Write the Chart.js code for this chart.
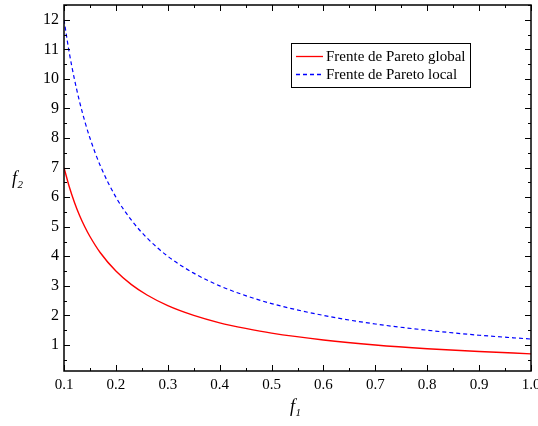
<!DOCTYPE html>
<html>
<head>
<meta charset="utf-8">
<script src="https://cdn.jsdelivr.net/npm/chart.js@4.4.1/dist/chart.umd.min.js"></script>
<style>
  html, body { margin: 0; padding: 0; background: #fff; }
  #wrap { width: 538px; height: 426px; }
</style>
</head>
<body>
<div id="wrap"><canvas id="pareto"></canvas></div>
<script>
// valori
const f1Values = [0.1, 0.11, 0.12, 0.13, 0.14, 0.15, 0.17, 0.2, 0.23, 0.26, 0.3, 0.35, 0.4, 0.45, 0.5, 0.6, 0.7, 0.8, 0.9, 1.0];
const f2Global = [7.0, 6.36, 5.83, 5.38, 5.0, 4.67, 4.12, 3.5, 3.04, 2.69, 2.33, 2.0, 1.75, 1.56, 1.4, 1.17, 1.0, 0.875, 0.78, 0.7];
const f2Local = [12.0, 10.9, 10.0, 9.23, 8.57, 8.0, 7.06, 6.0, 5.22, 4.62, 4.0, 3.43, 3.0, 2.67, 2.4, 2.0, 1.71, 1.5, 1.33, 1.2];
const seriesNames = ['Frente de Pareto global', 'Frente de Pareto local'];
const xTicks = [0.1, 0.2, 0.3, 0.4, 0.5, 0.6, 0.7, 0.8, 0.9, 1.0];
const yTicks = [1, 2, 3, 4, 5, 6, 7, 8, 9, 10, 11, 12];

const serif = '"Liberation Serif", "Times New Roman", serif';
const toPoints = (ys) => f1Values.map((x, i) => ({ x: x, y: ys[i] }));

// cornice, tacche interne, legenda e titoli degli assi
const framePlugin = {
  id: 'frame',
  afterDraw(chart) {
    const { ctx, chartArea: a, scales } = chart;
    const xs = scales.x, ys = scales.y;
    ctx.save();
    ctx.strokeStyle = '#000';
    ctx.lineWidth = 1.5;
    ctx.strokeRect(a.left, a.top, a.right - a.left, a.bottom - a.top);

    ctx.lineWidth = 1;
    ctx.beginPath();
    for (let v = 0.1; v <= 1.0001; v += 0.05) {
      const px = Math.round(xs.getPixelForValue(v)) + 0.5;
      const major = Math.abs(v * 10 - Math.round(v * 10)) < 0.01;
      const len = major ? 6 : 3;
      ctx.moveTo(px, a.bottom); ctx.lineTo(px, a.bottom - len);
      ctx.moveTo(px, a.top); ctx.lineTo(px, a.top + len);
    }
    for (let v = 0.5; v <= 12.5; v += 0.5) {
      const py = Math.round(ys.getPixelForValue(v)) + 0.5;
      const major = Number.isInteger(v);
      const len = major ? 6 : 3;
      ctx.moveTo(a.left, py); ctx.lineTo(a.left + len, py);
      ctx.moveTo(a.right, py); ctx.lineTo(a.right - len, py);
    }
    ctx.stroke();

    // legenda
    const lx = 291, ly = 43, lw = 179, lh = 44;
    ctx.fillStyle = '#fff';
    ctx.fillRect(lx, ly, lw, lh);
    ctx.lineWidth = 1;
    ctx.strokeStyle = '#000';
    ctx.strokeRect(lx + 0.5, ly + 0.5, lw, lh);
    const rows = [
      { y: ly + 13, color: '#ff0000', dash: [] },
      { y: ly + 31, color: '#0000ff', dash: [4, 3] }
    ];
    ctx.font = '15px ' + serif;
    ctx.textBaseline = 'middle';
    ctx.textAlign = 'left';
    rows.forEach((r, i) => {
      ctx.beginPath();
      ctx.setLineDash(r.dash);
      ctx.strokeStyle = r.color;
      ctx.lineWidth = 1.3;
      ctx.moveTo(lx + 5, r.y + 0.5);
      ctx.lineTo(lx + 32, r.y + 0.5);
      ctx.stroke();
      ctx.setLineDash([]);
      ctx.fillStyle = '#000';
      ctx.fillText(seriesNames[i], lx + 35, r.y + 1);
    });

    // titoli f1 e f2
    const drawSub = (base, sub, x, y) => {
      ctx.fillStyle = '#000';
      ctx.textBaseline = 'alphabetic';
      ctx.font = 'italic 18px ' + serif;
      ctx.fillText(base, x, y);
      const w = ctx.measureText(base).width;
      ctx.font = 'italic 11px ' + serif;
      ctx.fillText(sub, x + w + 0.5, y + 4);
    };
    drawSub('f', '2', 12, 184);
    drawSub('f', '1', 290, 412);
    ctx.restore();
  }
};

new Chart(document.getElementById('pareto'), {
  type: 'line',
  data: {
    datasets: [
      {
        label: seriesNames[0],
        data: toPoints(f2Global),
        borderColor: '#ff0000',
        borderWidth: 1.4,
        pointRadius: 0,
        cubicInterpolationMode: 'monotone',
        fill: false
      },
      {
        label: seriesNames[1],
        data: toPoints(f2Local),
        borderColor: '#0000ff',
        borderWidth: 1.2,
        borderDash: [4, 3],
        pointRadius: 0,
        cubicInterpolationMode: 'monotone',
        fill: false
      }
    ]
  },
  options: {
    responsive: true,
    maintainAspectRatio: false,
    animation: false,
    layout: { padding: { left: 0, right: 7, top: 5, bottom: 0 } },
    plugins: {
      legend: { display: false },
      tooltip: { enabled: false }
    },
    scales: {
      x: {
        type: 'linear',
        min: 0.1,
        max: 1.0,
        grid: { display: false, drawTicks: false },
        border: { display: false },
        afterFit: (s) => { s.height = 55; s.paddingLeft = 0; s.paddingRight = 0; },
        afterBuildTicks: (s) => { s.ticks = xTicks.map(v => ({ value: v })); },
        ticks: {
          color: '#000',
          font: { family: serif, size: 15 },
          padding: 5,
          maxRotation: 0,
          autoSkip: false,
          callback: (v) => v.toFixed(1)
        }
      },
      y: {
        min: 0.12,
        max: 12.5,
        grid: { display: false, drawTicks: false },
        border: { display: false },
        afterFit: (s) => { s.width = 64; s.paddingTop = 0; s.paddingBottom = 0; },
        afterBuildTicks: (s) => { s.ticks = yTicks.map(v => ({ value: v })); },
        ticks: {
          color: '#000',
          font: { family: serif, size: 16 },
          padding: 5,
          autoSkip: false
        }
      }
    }
  },
  plugins: [framePlugin]
});
</script>
</body>
</html>
